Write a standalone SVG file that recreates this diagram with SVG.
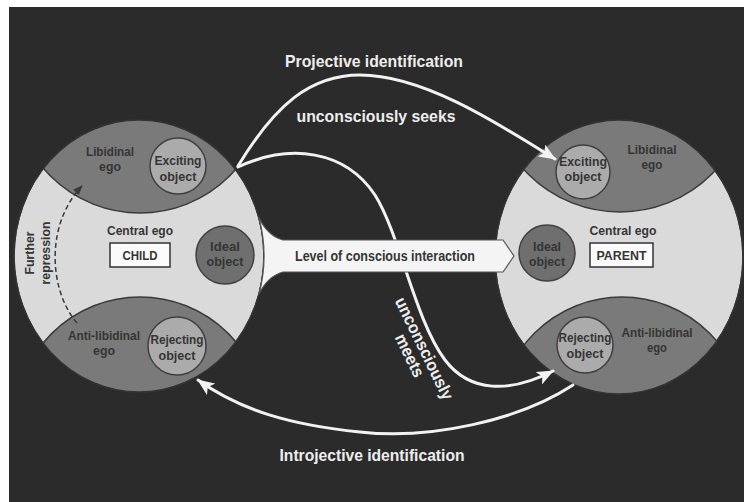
<svg xmlns="http://www.w3.org/2000/svg" width="744" height="502" viewBox="0 0 744 502">
<style>
.body{fill:#dadada;stroke:#333;stroke-width:1.5}
.outline{fill:none;stroke:#333;stroke-width:1.5}
.cap{fill:#7a7a7a;stroke:#3a3a3a;stroke-width:1.5}
.obj{fill:#ababab;stroke:#404040;stroke-width:1.5}
.ideal{fill:#6f6f6f;stroke:#404040;stroke-width:1.5}
.box{fill:#fafafa;stroke:#333;stroke-width:1.5}
.lbl{font-family:"Liberation Sans",Arial,sans-serif;font-weight:bold;font-size:13px;fill:#353535;text-anchor:middle}
.wl{font-family:"Liberation Sans",Arial,sans-serif;font-weight:bold;font-size:17px;fill:#eeeeee;text-anchor:middle}
.conn{fill:none;stroke:#f2f2f2;stroke-width:3;stroke-linecap:round}
.dash{fill:none;stroke:#3a3a3a;stroke-width:1.5;stroke-dasharray:5 3}
.banner{fill:#f4f4f4;stroke:#555;stroke-width:1.2}
</style>
<defs>
<clipPath id="clipL"><ellipse cx="139" cy="256" rx="125" ry="136"/></clipPath>
<clipPath id="clipR"><ellipse cx="619" cy="257" rx="124" ry="137"/></clipPath>
<marker id="ah" markerUnits="userSpaceOnUse" markerWidth="18" markerHeight="14" refX="16" refY="7" orient="auto"><path d="M0,0 L17,7 L0,14 L4,7 Z" fill="#f2f2f2"/></marker>
<marker id="ahd" markerUnits="userSpaceOnUse" markerWidth="10" markerHeight="8" refX="9" refY="4" orient="auto"><path d="M0,0 L10,4 L0,8 Z" fill="#3a3a3a"/></marker>
</defs>
<rect x="0" y="0" width="744" height="502" fill="#ffffff"/>
<rect x="9" y="7" width="735" height="495" fill="#2b2b2b"/>

<g id="parent">
<ellipse class="body" cx="619" cy="257" rx="124" ry="137"/>
<g clip-path="url(#clipR)">
<circle class="cap" cx="620" cy="82" r="130"/>
<circle class="cap" cx="622" cy="421" r="124"/>
</g>
<ellipse class="outline" cx="619" cy="257" rx="124" ry="137"/>
<g id="parent-libidinal-ego"><text class="lbl" x="652" y="154" textLength="49" lengthAdjust="spacingAndGlyphs">Libidinal</text><text class="lbl" x="652" y="169" textLength="21" lengthAdjust="spacingAndGlyphs">ego</text></g>
<g id="parent-exciting-object"><circle class="obj" cx="583" cy="172" r="27"/><text class="lbl" x="583" y="166" textLength="48" lengthAdjust="spacingAndGlyphs">Exciting</text><text class="lbl" x="583" y="181" textLength="37" lengthAdjust="spacingAndGlyphs">object</text></g>
<g id="parent-central-ego"><text class="lbl" x="623" y="235" textLength="67" lengthAdjust="spacingAndGlyphs">Central ego</text><rect class="box" x="590" y="243" width="63" height="24"/><text class="lbl" x="621.5" y="260" textLength="50" lengthAdjust="spacingAndGlyphs">PARENT</text></g>
<g id="parent-ideal-object"><circle class="ideal" cx="547" cy="253" r="28"/><text class="lbl" x="547" y="251" textLength="28" lengthAdjust="spacingAndGlyphs">Ideal</text><text class="lbl" x="547" y="266" textLength="36" lengthAdjust="spacingAndGlyphs">object</text></g>
<g id="parent-rejecting-object"><circle class="obj" cx="585" cy="345" r="28"/><text class="lbl" x="585" y="342" textLength="53" lengthAdjust="spacingAndGlyphs">Rejecting</text><text class="lbl" x="585" y="358" textLength="37" lengthAdjust="spacingAndGlyphs">object</text></g>
<g id="parent-anti-libidinal-ego"><text class="lbl" x="657" y="337" textLength="71" lengthAdjust="spacingAndGlyphs">Anti-libidinal</text><text class="lbl" x="657" y="352" textLength="20" lengthAdjust="spacingAndGlyphs">ego</text></g>
</g>

<g id="child">
<ellipse class="body" cx="139" cy="256" rx="125" ry="136"/>
<g clip-path="url(#clipL)">
<circle class="cap" cx="140" cy="86" r="127"/>
<circle class="cap" cx="140" cy="422" r="125"/>
</g>
<ellipse class="outline" cx="139" cy="256" rx="125" ry="136"/>
<g id="child-libidinal-ego"><text class="lbl" x="110" y="156" textLength="48" lengthAdjust="spacingAndGlyphs">Libidinal</text><text class="lbl" x="110" y="171" textLength="22" lengthAdjust="spacingAndGlyphs">ego</text></g>
<g id="child-exciting-object"><circle class="obj" cx="178" cy="166" r="28"/><text class="lbl" x="178" y="165" textLength="47" lengthAdjust="spacingAndGlyphs">Exciting</text><text class="lbl" x="178" y="181" textLength="37" lengthAdjust="spacingAndGlyphs">object</text></g>
<g id="child-central-ego"><text class="lbl" x="140" y="235" textLength="66" lengthAdjust="spacingAndGlyphs">Central ego</text><rect class="box" x="110" y="243" width="60" height="24"/><text class="lbl" x="140" y="260" textLength="35" lengthAdjust="spacingAndGlyphs">CHILD</text></g>
<g id="child-ideal-object"><circle class="ideal" cx="225" cy="255" r="29"/><text class="lbl" x="225" y="251" textLength="30" lengthAdjust="spacingAndGlyphs">Ideal</text><text class="lbl" x="225" y="266" textLength="37" lengthAdjust="spacingAndGlyphs">object</text></g>
<g id="child-rejecting-object"><circle class="obj" cx="177" cy="346" r="29"/><text class="lbl" x="177" y="344" textLength="53" lengthAdjust="spacingAndGlyphs">Rejecting</text><text class="lbl" x="177" y="360" textLength="37" lengthAdjust="spacingAndGlyphs">object</text></g>
<g id="child-anti-libidinal-ego"><text class="lbl" x="104" y="340" textLength="72" lengthAdjust="spacingAndGlyphs">Anti-libidinal</text><text class="lbl" x="104" y="355" textLength="22" lengthAdjust="spacingAndGlyphs">ego</text></g>
<g id="further-repression"><text class="lbl" transform="translate(34,253) rotate(-90)" textLength="43" lengthAdjust="spacingAndGlyphs">Further</text><text class="lbl" transform="translate(50,253) rotate(-90)" textLength="63" lengthAdjust="spacingAndGlyphs">repression</text></g>
</g>

<g id="connectors">
<path class="dash" d="M77,323 C50,292 44,226 82,186" marker-end="url(#ahd)"/>
<path id="projective" class="conn" d="M238,166 C275,105 310,75 360,75 C420,75 490,118 555,159" marker-end="url(#ah)"/>
<path id="meets" class="conn" d="M238,167 C290,143 345,150 375,195 C400,235 415,320 445,360 C470,393 510,393 553,371" marker-end="url(#ah)"/>
<path id="introjective" class="conn" d="M573,385 C520,420 430,440 360,432 C290,425 240,410 198,380" marker-end="url(#ah)"/>
</g>

<g id="conscious-level">
<path class="banner" d="M259,218 Q268,236 283,240 L503,240 L514,256 L503,272 L283,272 Q268,276 259,294 A125,136 0 0,0 259,218 Z"/>
<text class="lbl" x="385" y="261" textLength="180" lengthAdjust="spacingAndGlyphs" style="font-size:14px">Level of conscious interaction</text>
</g>

<g id="labels">
<text class="wl" x="374" y="67" textLength="178" lengthAdjust="spacingAndGlyphs">Projective identification</text>
<text class="wl" x="376" y="122" textLength="159" lengthAdjust="spacingAndGlyphs">unconsciously seeks</text>
<text class="wl" x="372" y="461" textLength="185" lengthAdjust="spacingAndGlyphs">Introjective identification</text>
<g transform="translate(419,351) rotate(64)">
<text class="wl" x="0" y="0" textLength="112" lengthAdjust="spacingAndGlyphs">unconsciously</text>
<text class="wl" x="0" y="16" textLength="46" lengthAdjust="spacingAndGlyphs">meets</text>
</g>
</g>
</svg>
